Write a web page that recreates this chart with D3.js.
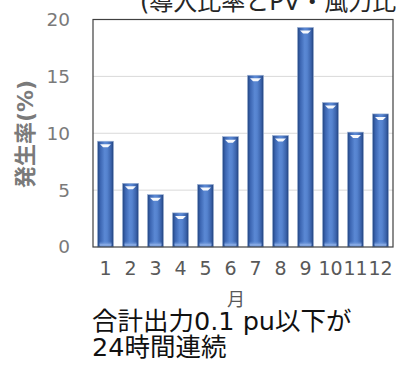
<!DOCTYPE html>
<html>
<head>
<meta charset="utf-8">
<script src="https://cdn.jsdelivr.net/npm/d3@7"></script>
<style>
  html, body { margin: 0; padding: 0; background: #fff; }
  svg { display: block; }
</style>
</head>
<body>
<svg id="chart" width="396" height="365"></svg>
<script>
// Monthly occurrence rate (%) of total output staying at or below 0.1 pu for 24 hours
const months = ["1", "2", "3", "4", "5", "6", "7", "8", "9", "10", "11", "12"];
const rates = [9.3, 5.6, 4.6, 3.0, 5.5, 9.7, 15.1, 9.8, 19.3, 12.7, 10.1, 11.7];
const yTicks = [0, 5, 10, 15, 20];

const svg = d3.select("#chart");
const mixFont = "'DejaVu Sans', 'Noto Sans CJK JP', sans-serif";
const numFont = "'DejaVu Sans', Verdana, sans-serif";

const plot = { left: 93, right: 393, top: 19.5, bottom: 247 };

const x = d3.scaleBand().domain(months).range([plot.left, plot.right]).paddingInner(0.36).paddingOuter(0.18);
const y = d3.scaleLinear().domain([0, 20]).range([plot.bottom, plot.top]);

// Bar shading
const defs = svg.append("defs");
const g = defs.append("linearGradient").attr("id", "barFill").attr("x1", 0).attr("x2", 1).attr("y1", 0).attr("y2", 0);
[["0%", "#22447e"], ["18%", "#3c66b2"], ["45%", "#5a88d4"], ["60%", "#5583cf"], ["85%", "#3a62aa"], ["100%", "#20407a"]]
  .forEach(([o, c]) => g.append("stop").attr("offset", o).attr("stop-color", c));
const gb = defs.append("linearGradient").attr("id", "baseFill").attr("x1", 0).attr("x2", 0).attr("y1", 0).attr("y2", 1);
[["0%", "#5a88d4", 0], ["60%", "#8fb0e6", 0.9], ["100%", "#6f95d6", 0.9]]
  .forEach(([o, c, a]) => gb.append("stop").attr("offset", o).attr("stop-color", c).attr("stop-opacity", a));

// Gridlines
svg.append("g").selectAll("line").data(yTicks.filter(t => t > 0 && t < 20)).join("line")
  .attr("x1", plot.left).attr("x2", plot.right)
  .attr("y1", d => y(d)).attr("y2", d => y(d))
  .attr("stroke", "#d9d9d9").attr("stroke-width", 1);

// Bars
const bars = svg.append("g").selectAll("g").data(months).join("g");
bars.append("rect")
  .attr("x", d => x(d)).attr("width", x.bandwidth())
  .attr("y", (d, i) => y(rates[i])).attr("height", (d, i) => y(0) - y(rates[i]))
  .attr("fill", "url(#barFill)")
  .attr("stroke", "#9fb4d6").attr("stroke-width", 0.6);
// light base at the foot of each bar
bars.append("rect")
  .attr("x", d => x(d) + 2).attr("width", x.bandwidth() - 4)
  .attr("y", y(0) - 6).attr("height", 6)
  .attr("rx", 2)
  .attr("fill", "url(#baseFill)");
// white highlight under the top of each bar
bars.append("path")
  .attr("d", (d, i) => {
    const cx = x(d) + x.bandwidth() / 2;
    const t = y(rates[i]) + 3;
    const w = x.bandwidth() * 0.34;
    return `M${cx - w},${t} L${cx + w},${t} L${cx + w * 0.45},${t + 3} L${cx - w * 0.45},${t + 3} Z`;
  })
  .attr("fill", "#ffffff").attr("opacity", 0.95);

// Frame
svg.append("rect")
  .attr("x", plot.left).attr("y", plot.top)
  .attr("width", plot.right - plot.left).attr("height", plot.bottom - plot.top)
  .attr("fill", "none").attr("stroke", "#404040").attr("stroke-width", 1.2);

// Y axis labels
const yAxis = d3.axisLeft(y).tickValues(yTicks).tickSize(0).tickPadding(23);
svg.append("g").attr("transform", `translate(${plot.left},0)`).call(yAxis)
  .call(s => s.select(".domain").remove())
  .selectAll("text")
  .attr("font-family", numFont).attr("font-size", 18.5).attr("fill", "#7a7a7a");

// X axis labels
const xAxis = d3.axisBottom(x).tickSize(0).tickPadding(15);
svg.append("g").attr("transform", `translate(0,${plot.bottom})`).call(xAxis)
  .call(s => s.select(".domain").remove())
  .selectAll("text")
  .attr("font-family", numFont).attr("font-size", 19).attr("fill", "#595959");

// Axis titles
svg.append("text")
  .attr("transform", "translate(33,134) rotate(-90)")
  .attr("text-anchor", "middle")
  .attr("font-family", mixFont).attr("font-weight", "bold")
  .attr("font-size", 22).attr("fill", "#7a7a7a")
  .text("発生率(%)");

svg.append("text")
  .attr("x", 236).attr("y", 306)
  .attr("text-anchor", "middle")
  .attr("font-family", mixFont).attr("font-size", 18).attr("fill", "#595959")
  .text("月");

// Title (partly above the top edge)
svg.append("text")
  .attr("x", 140).attr("y", 9.5)
  .attr("font-family", mixFont).attr("font-size", 24).attr("fill", "#262626")
  .text("(導入比率とPV・風力比率)");

// Caption
const cap = svg.append("text")
  .attr("font-family", mixFont).attr("font-size", 25.5).attr("fill", "#111");
cap.append("tspan").attr("x", 92).attr("y", 330).text("合計出力0.1 pu以下が");
cap.append("tspan").attr("x", 92).attr("y", 356).text("24時間連続");
</script>
</body>
</html>
